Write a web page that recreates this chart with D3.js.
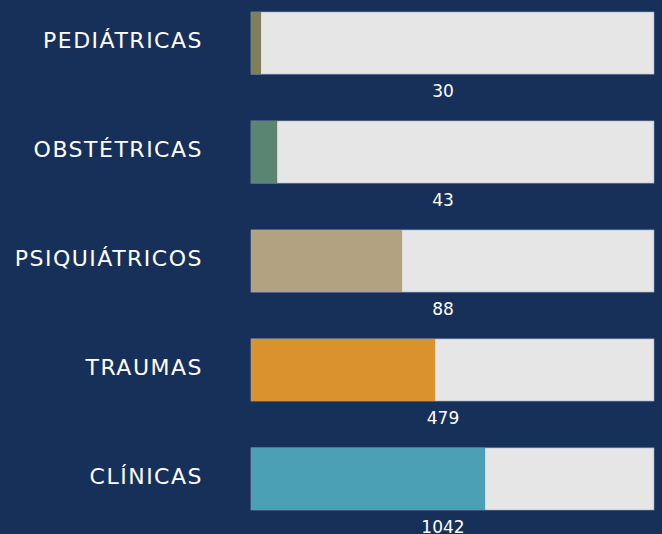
<!DOCTYPE html>
<html><head><meta charset="utf-8">
<script src="https://cdn.jsdelivr.net/npm/d3@7"></script>
<style>html,body{margin:0;padding:0;background:#17305a;overflow:hidden}</style>
</head><body><svg id="c" width="662" height="534"></svg>
<script>
const categories = ["PEDIÁTRICAS","OBSTÉTRICAS","PSIQUIÁTRICOS","TRAUMAS","CLÍNICAS"];
const counts = [30, 43, 88, 479, 1042];
const shares = [2.5, 6.5, 37.5, 45.7, 58.1];
const colors = ["#7f7f5a","#5a8573","#b3a282","#d9922d","#4ba0b5"];

const svg = d3.select("#c");
svg.append("rect").attr("width",662).attr("height",534).attr("fill","#17305a");
const x = d3.scaleLinear().domain([0,100]).range([251,654]);
const y = d3.scaleBand().domain(categories).range([12,510]).paddingInner(0.43).paddingOuter(0);
const g = svg.append("g");
const rows = g.selectAll("g.row").data(categories).join("g").attr("class","row");
rows.append("rect").attr("x",x(0)).attr("y",d=>y(d)).attr("width",x(100)-x(0)).attr("height",y.bandwidth())
  .attr("fill","#e6e6e6").attr("stroke","#9aa6bb").attr("stroke-width",0.6);
rows.append("rect").attr("x",x(0)).attr("y",d=>y(d)).attr("width",(d,i)=>x(shares[i])-x(0)).attr("height",y.bandwidth())
  .attr("fill",(d,i)=>colors[i]);
rows.append("text").attr("x",203).attr("y",d=>y(d)+y.bandwidth()/2-3).attr("dy","0.36em")
  .attr("text-anchor","end").attr("fill","#ffffff").attr("font-family","'DejaVu Sans', sans-serif")
  .attr("font-size",22).attr("letter-spacing",1.5).text(d=>d);
rows.append("text").attr("x",443).attr("y",d=>y(d)+y.bandwidth()+17).attr("dy","0.36em")
  .attr("text-anchor","middle").attr("fill","#ffffff").attr("font-family","'DejaVu Sans', sans-serif")
  .attr("font-size",17).text((d,i)=>counts[i]);
</script></body></html>
